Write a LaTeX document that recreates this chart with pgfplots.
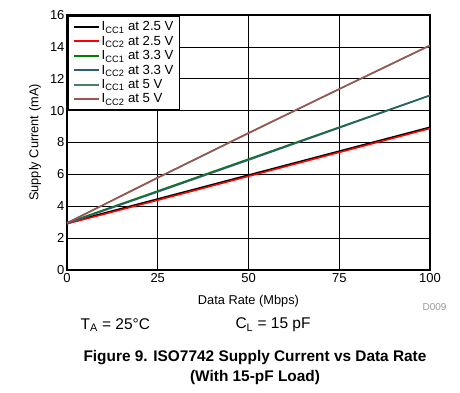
\documentclass[border=0pt]{standalone}
\usepackage{pgfplots}
\pgfplotsset{compat=1.18}
\usepackage{fontspec}
\setmainfont{Liberation Sans}
\definecolor{cA}{RGB}{0,0,0}
\definecolor{cB}{RGB}{255,0,0}
\definecolor{cC}{RGB}{0,128,0}
\definecolor{cD}{RGB}{46,94,114}
\definecolor{cE}{RGB}{72,128,96}
\definecolor{cF}{RGB}{160,82,80}
\begin{document}
\begin{tikzpicture}
\useasboundingbox (-67pt,-122pt) rectangle (393pt,270pt);
\begin{axis}[
  name=ax, at={(0,0)}, anchor=south west,
  scale only axis, width=363pt, height=255pt,
  xmin=0, xmax=100, ymin=0, ymax=16,
  xtick={0,25,50,75,100}, ytick={0,2,4,6,8,10,12,14,16},
  grid=major, major grid style={black, line width=0.6pt},
  axis line style={line width=1.6pt},
  major tick length=0pt,
  tick label style={font=\fontsize{13}{15}\selectfont},
  yticklabel style={xshift=1pt},
  /pgf/number format/assume math mode=true,
  xlabel={Data Rate (Mbps)}, ylabel={Supply Current (mA)},
  label style={font=\fontsize{12.8}{15}\selectfont},
  xlabel style={at={(axis description cs:0.5,-0.1216)}, anchor=center},
  ylabel style={at={(axis description cs:-0.088,0.5)}, anchor=center},
  legend style={at={(0.003,0.996)}, anchor=north west, draw=black, line width=1.3pt,
    font=\fontsize{13.2}{15}\selectfont, inner xsep=4pt, inner ysep=3pt, row sep=-0.3pt},
  legend cell align=left,
  legend image code/.code={\draw[#1, line width=2pt] (0pt,0pt) -- (25pt,0pt);},
]
\addplot[cA, line width=1.5pt] coordinates {(0,2.96) (25,4.46) (50,5.96) (75,7.46) (100,8.96)};
\addlegendentry{I\textsubscript{CC1} at 2.5 V}
\addplot[cB, line width=1.5pt] coordinates {(0,2.9) (25,4.38) (50,5.88) (75,7.38) (100,8.88)};
\addlegendentry{I\textsubscript{CC2} at 2.5 V}
\addplot[cC, line width=1.5pt] coordinates {(0,2.96) (25,4.96) (50,6.96) (75,8.96) (100,10.96)};
\addlegendentry{I\textsubscript{CC1} at 3.3 V}
\addplot[cD, line width=1.5pt] coordinates {(0,2.92) (25,4.9) (50,6.9) (75,8.92) (100,10.95)};
\addlegendentry{I\textsubscript{CC2} at 3.3 V}
\addplot[cE, line width=1.5pt] coordinates {(0,2.95) (25,5.78) (50,8.58) (75,11.35) (100,14.08)};
\addlegendentry{I\textsubscript{CC1} at 5 V}
\addplot[cF, line width=1.5pt] coordinates {(0,2.95) (25,5.8) (50,8.6) (75,11.36) (100,14.1)};
\addlegendentry{I\textsubscript{CC2} at 5 V}
\end{axis}
\node[anchor=west, font=\fontsize{15.5}{18}\selectfont] at (10pt,-55pt) {T\textsubscript{A} = 25°C};
\node[anchor=west, font=\fontsize{15.5}{18}\selectfont] at (165pt,-55pt) {C\textsubscript{L} = 15 pF};
\node[anchor=east, font=\fontsize{10}{12}\selectfont, text=black!40] at (383pt,-37pt) {D009};
\node[font=\fontsize{15.4}{18}\selectfont\bfseries] at (188pt,-88pt) {Figure 9. ISO7742 Supply Current vs Data Rate};
\node[font=\fontsize{15.4}{18}\selectfont\bfseries] at (188pt,-108pt) {(With 15-pF Load)};
\end{tikzpicture}
\end{document}
